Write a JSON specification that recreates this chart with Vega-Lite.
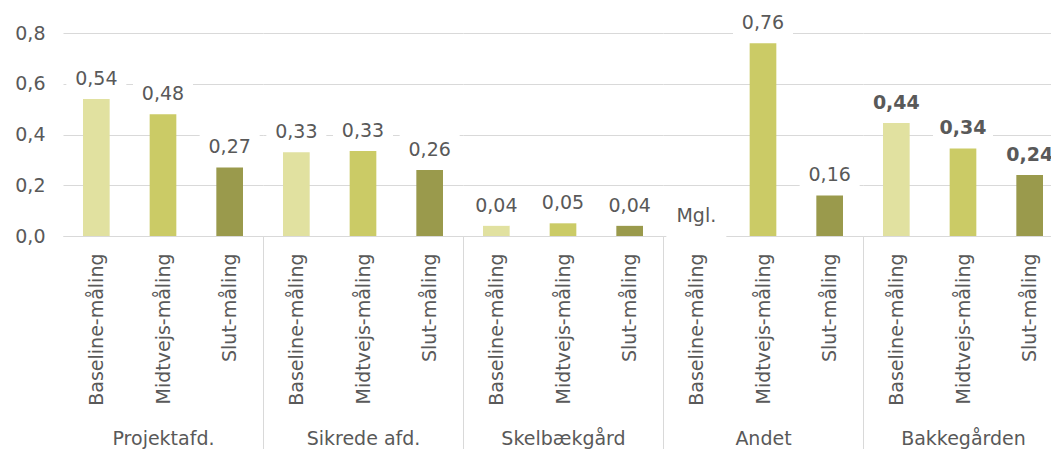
{
  "$schema": "https://vega.github.io/schema/vega-lite/v6.json",
  "padding": {"top": 7, "left": 14, "right": -13, "bottom": 0},
  "datasets": {
    "maalinger": [
      {"gruppe": "Projektafd.", "maaling": "Baseline-måling", "vaerdi": 0.54, "label": "0,54"},
      {"gruppe": "Projektafd.", "maaling": "Midtvejs-måling", "vaerdi": 0.48, "label": "0,48"},
      {"gruppe": "Projektafd.", "maaling": "Slut-måling", "vaerdi": 0.27, "label": "0,27"},
      {"gruppe": "Sikrede afd.", "maaling": "Baseline-måling", "vaerdi": 0.33, "label": "0,33"},
      {"gruppe": "Sikrede afd.", "maaling": "Midtvejs-måling", "vaerdi": 0.335, "label": "0,33"},
      {"gruppe": "Sikrede afd.", "maaling": "Slut-måling", "vaerdi": 0.26, "label": "0,26"},
      {"gruppe": "Skelbækgård", "maaling": "Baseline-måling", "vaerdi": 0.04, "label": "0,04"},
      {"gruppe": "Skelbækgård", "maaling": "Midtvejs-måling", "vaerdi": 0.05, "label": "0,05"},
      {"gruppe": "Skelbækgård", "maaling": "Slut-måling", "vaerdi": 0.04, "label": "0,04"},
      {"gruppe": "Andet", "maaling": "Baseline-måling", "vaerdi": null, "label": "Mgl."},
      {"gruppe": "Andet", "maaling": "Midtvejs-måling", "vaerdi": 0.76, "label": "0,76"},
      {"gruppe": "Andet", "maaling": "Slut-måling", "vaerdi": 0.16, "label": "0,16"},
      {"gruppe": "Bakkegården", "maaling": "Baseline-måling", "vaerdi": 0.445, "label": "0,44"},
      {"gruppe": "Bakkegården", "maaling": "Midtvejs-måling", "vaerdi": 0.345, "label": "0,34"},
      {"gruppe": "Bakkegården", "maaling": "Slut-måling", "vaerdi": 0.24, "label": "0,24"}
    ]
  },
  "data": {"name": "maalinger"},
  "spacing": 0,
  "bounds": "flush",
  "hconcat": [
    {
      "width": 200, "height": 203,
      "transform": [{"filter": {"field": "gruppe", "equal": "Projektafd."}}],
      "encoding": {
        "x": {"field": "maaling", "type": "nominal",
          "scale": {"domain": ["Baseline-måling", "Midtvejs-måling", "Slut-måling"], "paddingInner": 0, "paddingOuter": 0},
          "axis": {"title": "Projektafd.", "titleY": 208, "titleBaseline": "alphabetic", "titleFontSize": 19, "titleFontWeight": "normal", "titleColor": "#595959",
            "labelAngle": -90, "labelFontSize": 19, "labelColor": "#595959", "labelPadding": -196,
            "tickBand": "extent", "tickSize": 213, "tickWidth": 1,
            "tickColor": {"condition": {"test": "datum.value === 'Slut-måling'", "value": "#d9d9d9"}, "value": "transparent"},
            "domainColor": "#d9d9d9", "grid": false}},
        "y": {"field": "vaerdi", "type": "quantitative", "scale": {"domain": [0, 0.8], "nice": false},
          "axis": {"title": null, "values": [0, 0.2, 0.4, 0.6, 0.8], "labelExpr": "replace(format(datum.value, '.1f'), '.', ',')", "labelFontSize": 19, "labelColor": "#595959", "labelPadding": 18, "domain": false, "ticks": false, "grid": true, "gridColor": "#d9d9d9"}}
      },
      "layer": [
        {"mark": {"type": "bar", "width": {"band": 0.4}},
         "encoding": {"color": {"field": "maaling", "type": "nominal", "scale": {"domain": ["Baseline-måling", "Midtvejs-måling", "Slut-måling"], "range": ["#e1e1a0", "#cbcb66", "#9a9a4c"]}, "legend": null}}},
        {"mark": {"type": "tick", "color": "white", "opacity": 1, "size": 60, "thickness": 28, "yOffset": -22, "invalid": "show"}},
        {"mark": {"type": "text", "baseline": "alphabetic", "dy": -14, "fontSize": 19, "color": "#595959", "invalid": "show"},
         "encoding": {"text": {"field": "label"}}}
      ]
    },
    {
      "width": 200, "height": 203,
      "transform": [{"filter": {"field": "gruppe", "equal": "Sikrede afd."}}],
      "encoding": {
        "x": {"field": "maaling", "type": "nominal",
          "scale": {"domain": ["Baseline-måling", "Midtvejs-måling", "Slut-måling"], "paddingInner": 0, "paddingOuter": 0},
          "axis": {"title": "Sikrede afd.", "titleY": 208, "titleBaseline": "alphabetic", "titleFontSize": 19, "titleFontWeight": "normal", "titleColor": "#595959",
            "labelAngle": -90, "labelFontSize": 19, "labelColor": "#595959", "labelPadding": -196,
            "tickBand": "extent", "tickSize": 213, "tickWidth": 1,
            "tickColor": {"condition": {"test": "datum.value === 'Slut-måling'", "value": "#d9d9d9"}, "value": "transparent"},
            "domainColor": "#d9d9d9", "grid": false}},
        "y": {"field": "vaerdi", "type": "quantitative", "scale": {"domain": [0, 0.8], "nice": false},
          "axis": {"title": null, "values": [0, 0.2, 0.4, 0.6, 0.8], "labels": false, "domain": false, "ticks": false, "grid": true, "gridColor": "#d9d9d9"}}
      },
      "layer": [
        {"mark": {"type": "bar", "width": {"band": 0.4}},
         "encoding": {"color": {"field": "maaling", "type": "nominal", "scale": {"domain": ["Baseline-måling", "Midtvejs-måling", "Slut-måling"], "range": ["#e1e1a0", "#cbcb66", "#9a9a4c"]}, "legend": null}}},
        {"mark": {"type": "tick", "color": "white", "opacity": 1, "size": 60, "thickness": 28, "yOffset": -22, "invalid": "show"}},
        {"mark": {"type": "text", "baseline": "alphabetic", "dy": -14, "fontSize": 19, "color": "#595959", "invalid": "show"},
         "encoding": {"text": {"field": "label"}}}
      ]
    },
    {
      "width": 200, "height": 203,
      "transform": [{"filter": {"field": "gruppe", "equal": "Skelbækgård"}}],
      "encoding": {
        "x": {"field": "maaling", "type": "nominal",
          "scale": {"domain": ["Baseline-måling", "Midtvejs-måling", "Slut-måling"], "paddingInner": 0, "paddingOuter": 0},
          "axis": {"title": "Skelbækgård", "titleY": 208, "titleBaseline": "alphabetic", "titleFontSize": 19, "titleFontWeight": "normal", "titleColor": "#595959",
            "labelAngle": -90, "labelFontSize": 19, "labelColor": "#595959", "labelPadding": -196,
            "tickBand": "extent", "tickSize": 213, "tickWidth": 1,
            "tickColor": {"condition": {"test": "datum.value === 'Slut-måling'", "value": "#d9d9d9"}, "value": "transparent"},
            "domainColor": "#d9d9d9", "grid": false}},
        "y": {"field": "vaerdi", "type": "quantitative", "scale": {"domain": [0, 0.8], "nice": false},
          "axis": {"title": null, "values": [0, 0.2, 0.4, 0.6, 0.8], "labels": false, "domain": false, "ticks": false, "grid": true, "gridColor": "#d9d9d9"}}
      },
      "layer": [
        {"mark": {"type": "bar", "width": {"band": 0.4}},
         "encoding": {"color": {"field": "maaling", "type": "nominal", "scale": {"domain": ["Baseline-måling", "Midtvejs-måling", "Slut-måling"], "range": ["#e1e1a0", "#cbcb66", "#9a9a4c"]}, "legend": null}}},
        {"mark": {"type": "tick", "color": "white", "opacity": 1, "size": 60, "thickness": 28, "yOffset": -22, "invalid": "show"}},
        {"mark": {"type": "text", "baseline": "alphabetic", "dy": -14, "fontSize": 19, "color": "#595959", "invalid": "show"},
         "encoding": {"text": {"field": "label"}}}
      ]
    },
    {
      "width": 200, "height": 203,
      "transform": [{"filter": {"field": "gruppe", "equal": "Andet"}}],
      "encoding": {
        "x": {"field": "maaling", "type": "nominal",
          "scale": {"domain": ["Baseline-måling", "Midtvejs-måling", "Slut-måling"], "paddingInner": 0, "paddingOuter": 0},
          "axis": {"title": "Andet", "titleY": 208, "titleBaseline": "alphabetic", "titleFontSize": 19, "titleFontWeight": "normal", "titleColor": "#595959",
            "labelAngle": -90, "labelFontSize": 19, "labelColor": "#595959", "labelPadding": -196,
            "tickBand": "extent", "tickSize": 213, "tickWidth": 1,
            "tickColor": {"condition": {"test": "datum.value === 'Slut-måling'", "value": "#d9d9d9"}, "value": "transparent"},
            "domainColor": "#d9d9d9", "grid": false}},
        "y": {"field": "vaerdi", "type": "quantitative", "scale": {"domain": [0, 0.8], "nice": false},
          "axis": {"title": null, "values": [0, 0.2, 0.4, 0.6, 0.8], "labels": false, "domain": false, "ticks": false, "grid": true, "gridColor": "#d9d9d9"}}
      },
      "layer": [
        {"mark": {"type": "bar", "width": {"band": 0.4}},
         "encoding": {"color": {"field": "maaling", "type": "nominal", "scale": {"domain": ["Baseline-måling", "Midtvejs-måling", "Slut-måling"], "range": ["#e1e1a0", "#cbcb66", "#9a9a4c"]}, "legend": null}}},
        {"mark": {"type": "tick", "color": "white", "opacity": 1, "size": 60, "thickness": 28, "yOffset": -22, "invalid": "show"}},
        {"mark": {"type": "text", "baseline": "alphabetic", "dy": -14, "fontSize": 19, "color": "#595959", "invalid": "show"},
         "encoding": {"text": {"field": "label"}}}
      ]
    },
    {
      "width": 200, "height": 203,
      "transform": [{"filter": {"field": "gruppe", "equal": "Bakkegården"}}],
      "encoding": {
        "x": {"field": "maaling", "type": "nominal",
          "scale": {"domain": ["Baseline-måling", "Midtvejs-måling", "Slut-måling"], "paddingInner": 0, "paddingOuter": 0},
          "axis": {"title": "Bakkegården", "titleY": 208, "titleBaseline": "alphabetic", "titleFontSize": 19, "titleFontWeight": "normal", "titleColor": "#595959",
            "labelAngle": -90, "labelFontSize": 19, "labelColor": "#595959", "labelPadding": -196,
            "tickBand": "extent", "tickSize": 213, "tickWidth": 1,
            "tickColor": {"condition": {"test": "datum.value === 'Slut-måling'", "value": "#d9d9d9"}, "value": "transparent"},
            "domainColor": "#d9d9d9", "grid": false}},
        "y": {"field": "vaerdi", "type": "quantitative", "scale": {"domain": [0, 0.8], "nice": false},
          "axis": {"title": null, "values": [0, 0.2, 0.4, 0.6, 0.8], "labels": false, "domain": false, "ticks": false, "grid": true, "gridColor": "#d9d9d9"}}
      },
      "layer": [
        {"mark": {"type": "bar", "width": {"band": 0.4}},
         "encoding": {"color": {"field": "maaling", "type": "nominal", "scale": {"domain": ["Baseline-måling", "Midtvejs-måling", "Slut-måling"], "range": ["#e1e1a0", "#cbcb66", "#9a9a4c"]}, "legend": null}}},
        {"mark": {"type": "tick", "color": "white", "opacity": 1, "size": 60, "thickness": 28, "yOffset": -22, "invalid": "show"}},
        {"mark": {"type": "text", "baseline": "alphabetic", "dy": -14, "fontSize": 19, "color": "#595959", "fontWeight": "bold", "invalid": "show"},
         "encoding": {"text": {"field": "label"}}}
      ]
    }
  ],
  "config": {"font": "DejaVu Sans", "view": {"stroke": null}}
}
